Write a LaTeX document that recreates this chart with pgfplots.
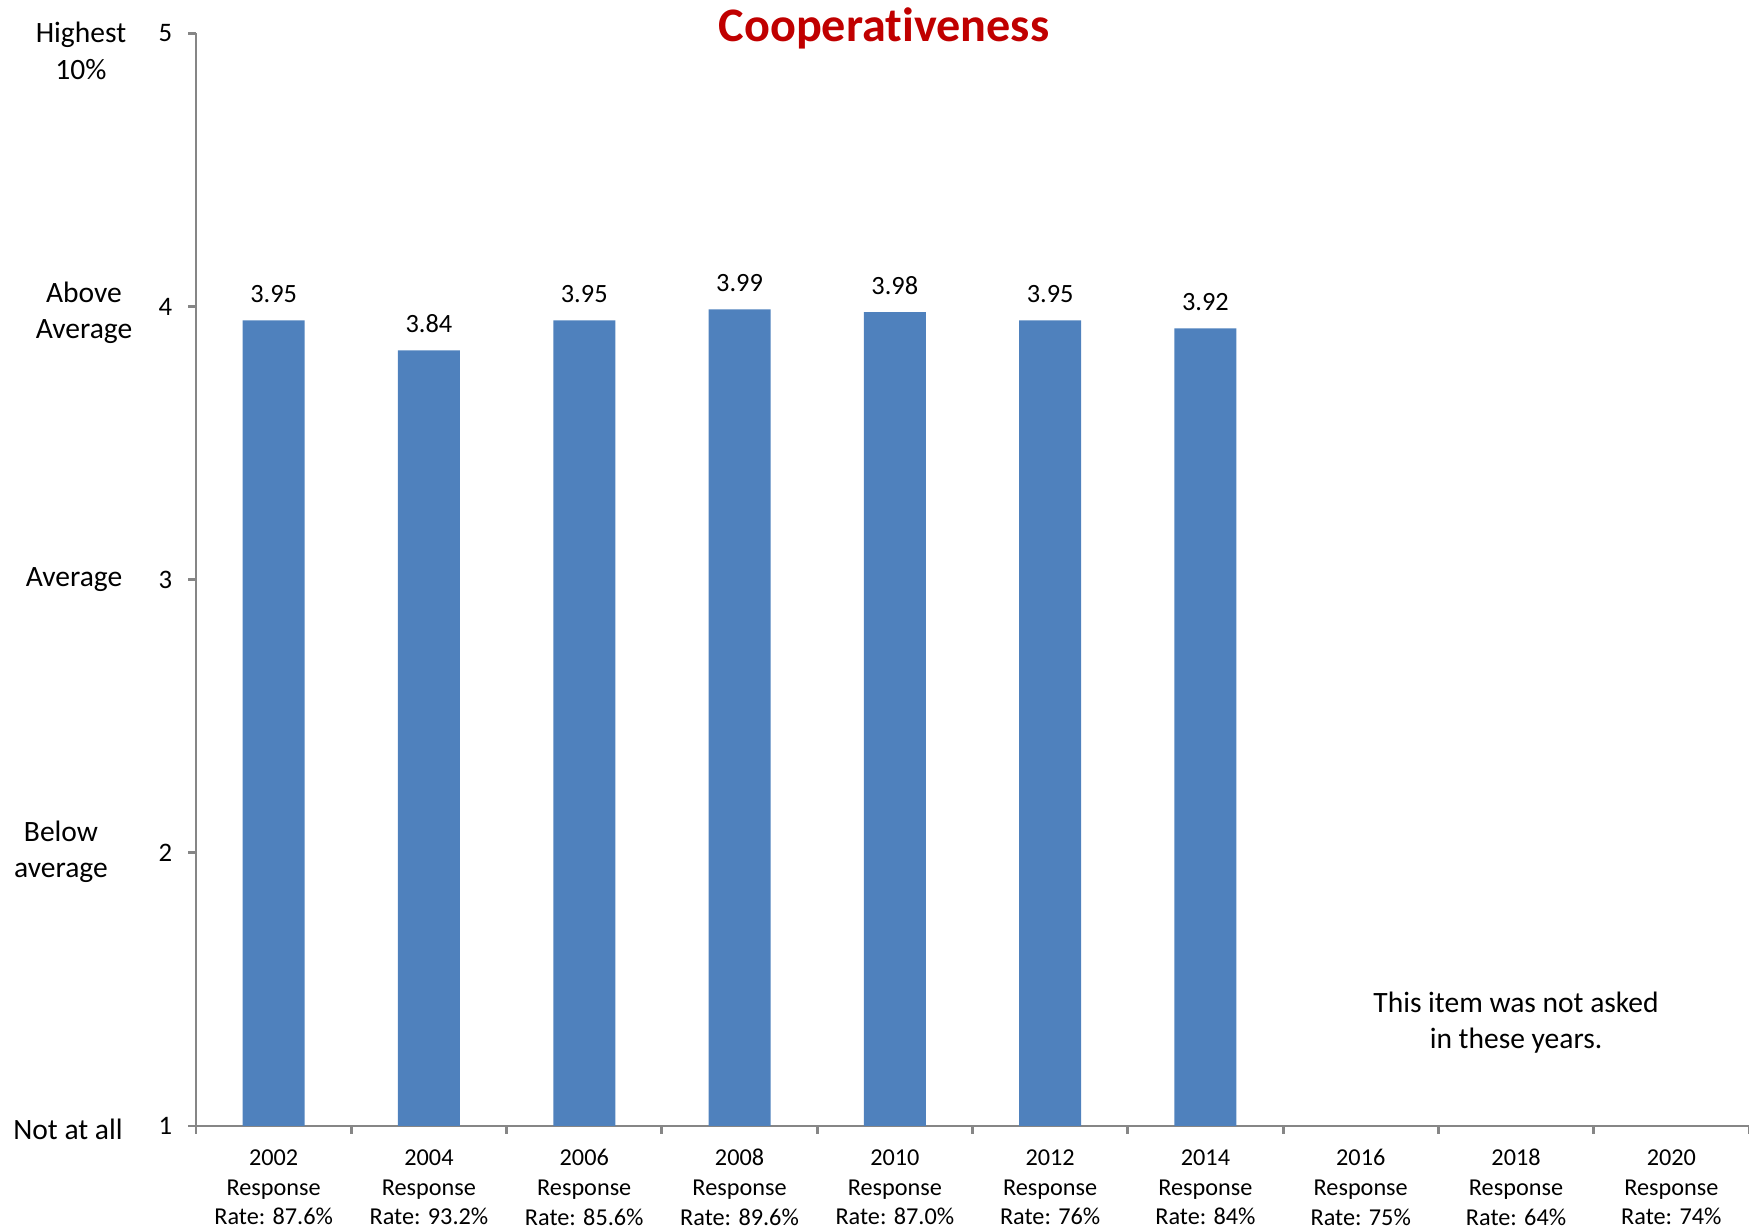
\documentclass[border=0pt]{standalone}
\usepackage{pgfplots}
\pgfplotsset{compat=1.18}
\usepackage{fontspec}
\setmainfont{Carlito}[Ligatures=NoCommon]
\definecolor{barblue}{HTML}{4F81BD}
\definecolor{titlered}{HTML}{C00000}
\definecolor{axgray}{HTML}{868686}
\begin{document}
\begin{tikzpicture}[x=1cm,y=1cm]
\path[use as bounding box] (0,0) rectangle (17.49,12.28);
\begin{axis}[
  at={(1.96cm,1.02cm)}, anchor=south west,
  scale only axis, width=15.53cm, height=10.925cm,
  xmin=-0.5, xmax=9.5, ymin=1, ymax=5,
  axis x line=bottom, axis y line=left,
  axis line style={-, draw=axgray, line width=0.8pt},
  ytick={1,2,3,4,5},
  xtick={0,...,9},
  xticklabels={{2002\\Response\\Rate: 87.6\%},{2004\\Response\\Rate: 93.2\%},{2006\\Response\\Rate: 85.6\%},{2008\\Response\\Rate: 89.6\%},{2010\\Response\\Rate: 87.0\%},{2012\\Response\\Rate: 76\%},{2014\\Response\\Rate: 84\%},{2016\\Response\\Rate: 75\%},{2018\\Response\\Rate: 64\%},{2020\\Response\\Rate: 74\%}},
  minor xtick={-0.5,0.5,...,9.5},
  tick align=outside,
  major tick length=0.08cm, minor tick length=0.08cm,
  tick style={draw=axgray, line width=0.8pt},
  major x tick style={draw=none},
  xticklabel style={align=center, font=\fontsize{6.9}{8.5}\selectfont, yshift=-0.03cm},
  yticklabel style={font=\fontsize{7.6}{9}\selectfont, xshift=-0.035cm},
  /pgf/number format/assume math mode=true,
]
\addplot[ybar, bar width=0.62cm, fill=barblue, draw=none, bar shift=0pt,
  nodes near coords, nodes near coords style={font=\fontsize{7.5}{8}\selectfont, yshift=0.05cm, /pgf/number format/fixed, /pgf/number format/precision=2, /pgf/number format/fixed zerofill, /pgf/number format/assume math mode=true}]
  coordinates {(0,3.95) (1,3.84) (2,3.95) (3,3.99) (4,3.98) (5,3.95) (6,3.92)};
\node[align=center, font=\fontsize{8.4}{10.3}\selectfont] at (axis cs:8,1.377) {This item was not asked\\in these years.};
\end{axis}
\node[font=\fontsize{13.7}{16}\selectfont\bfseries, text=titlered] at (8.84,12.0) {Cooperativeness};
\begin{scope}[every node/.style={align=center, font=\fontsize{8.4}{10.3}\selectfont}]
\node at (0.81,11.77) {Highest\\10\%};
\node at (0.84,9.15) {Above\\Average};
\node at (0.74,6.48) {Average};
\node at (0.61,3.76) {Below\\average};
\node at (0.68,0.99) {Not at all};
\end{scope}
\end{tikzpicture}
\end{document}
